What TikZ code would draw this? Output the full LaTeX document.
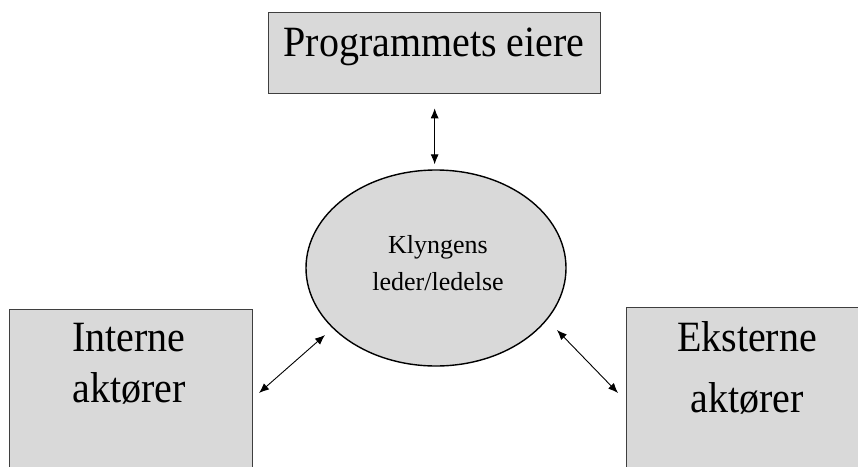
\documentclass[tikz,border=0pt]{standalone}
\usepackage{fontspec}
\setmainfont{Liberation Serif}
\usetikzlibrary{arrows.meta,shapes.geometric}
\definecolor{boxfill}{HTML}{D9D9D9}
\definecolor{boxline}{HTML}{3F3F3F}
\tikzset{
  panel/.style={draw=boxline, line width=1.3pt, fill=boxfill, inner sep=0pt, anchor=north west},
  hub/.style={ellipse, draw=black, line width=1.4pt, fill=boxfill, inner sep=0pt,
    minimum width=260pt, minimum height=196pt},
  % multi-line labels are placed by the baseline of their last line
  bigtext/.style={font=\fontsize{40}{47}\selectfont, align=center, anchor=base, inner sep=0pt, yscale=1.08},
  smalltext/.style={font=\fontsize{26}{37}\selectfont, align=center, anchor=base, inner sep=0pt},
  link/.style={{Latex[length=10pt,width=8pt]}-{Latex[length=10pt,width=8pt]}, line width=0.9pt},
}
\begin{document}
\begin{tikzpicture}[x=1pt, y=-1pt]
  \clip (0,0) rectangle (858,466);
  \fill[white] (0,0) rectangle (858,466);

  % boxes
  \node[panel, minimum width=332pt, minimum height=81pt] (own) at (268,12) {};
  \node[panel, minimum width=243pt, minimum height=190pt] (inn) at (9,309) {};
  \node[panel, minimum width=244pt, minimum height=190pt] (ext) at (626,307) {};
  \node[hub] (lead) at (436,268) {};

  % labels
  \node[bigtext] (ownlbl) at (434,56) {Programmets eiere};
  \node[bigtext] (innlbl) at (129,402) {Interne\\aktører};
  \node[bigtext, font=\fontsize{40}{56}\selectfont] (extlbl) at (747,412) {Eksterne\\aktører};
  \node[smalltext] (leadlbl) at (438,290) {Klyngens\\leder/ledelse};

  % connector end points
  \coordinate (innA) at (259,393);
  \coordinate (innB) at (325,335);
  \coordinate (extA) at (618,393);
  \coordinate (extB) at (557,330);

  % connectors
  \draw[link, shorten <=14pt, shorten >=5pt] (own.south) -- (own.south |- lead.north);
  \draw[link] (innA) -- (innB);
  \draw[link] (extB) -- (extA);
\end{tikzpicture}
\end{document}
